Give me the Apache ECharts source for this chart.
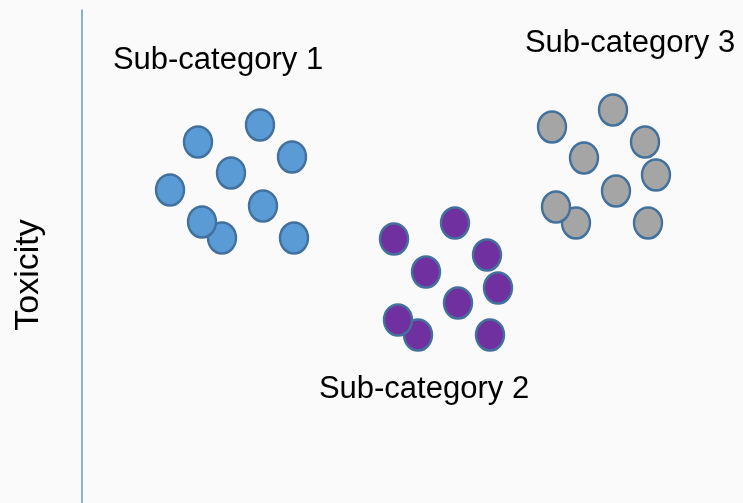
<!DOCTYPE html>
<html>
<head>
<meta charset="utf-8">
<script src="https://cdn.jsdelivr.net/npm/echarts@6/dist/echarts.min.js"></script>
<style>
  html, body { margin: 0; padding: 0; background: #fafafa; }
  #main { width: 743px; height: 503px; }
</style>
</head>
<body>
<div id="main"></div>
<script>
// points of each sub-category, [x, toxicity]
var cat1 = [[116, 398], [178, 415], [210, 383], [149, 367], [88, 350], [181, 334], [140, 302], [120, 318], [212, 302]];
var cat2 = [[312, 301], [373, 317], [405, 285], [344, 268], [416, 252], [376, 237], [336, 205], [316, 220], [408, 205]];
var cat3 = [[470, 413], [531, 430], [563, 398], [502, 382], [574, 365], [534, 349], [494, 317], [474, 333], [566, 317]];

var groupNames = ['Sub-category 1', 'Sub-category 2', 'Sub-category 3'];
var groupLabelPos = [[136, 480], [342, 151], [548, 497]];
var fills = ['#5b9bd5', '#7030a0', '#a5a5a5'];

(function () {
    "use strict";
    var myChart = echarts.init(document.getElementById('main'));

    function dots(data, color) {
        return {
            type: 'scatter',
            data: data,
            symbol: 'circle',
            symbolSize: [28, 31],
            silent: true,
            itemStyle: {
                color: color,
                borderColor: '#41719c',
                borderWidth: 2.5,
                opacity: 1
            }
        };
    }

    var labelData = [];
    for (var i in groupNames) {
        labelData.push({ name: groupNames[i], value: groupLabelPos[i] });
    }

    var option = {
        backgroundColor: '#fafafa',
        animation: false,
        grid: { left: 82, right: 0, top: 10, height: 530, outerBoundsMode: 'none', containLabel: false },
        xAxis: {
            type: 'value', min: 0, max: 661,
            show: false
        },
        yAxis: {
            type: 'value', min: 0, max: 530,
            name: 'Toxicity',
            nameLocation: 'middle',
            nameRotate: 90,
            nameGap: 36,
            nameTextStyle: { fontFamily: 'Liberation Sans', fontSize: 34, color: '#000' },
            axisLine: { show: true, lineStyle: { color: '#5b9bd5', width: 1.5 } },
            axisTick: { show: false },
            axisLabel: { show: false },
            splitLine: { show: false }
        },
        series: [
            dots(cat1, fills[0]),
            dots(cat2, fills[1]),
            dots(cat3, fills[2]),
            {
                type: 'scatter',
                data: labelData,
                symbolSize: 0,
                silent: true,
                itemStyle: { color: '#000' },
                label: {
                    show: true,
                    position: 'inside',
                    formatter: '{b}',
                    fontFamily: 'Liberation Sans',
                    fontSize: 31,
                    color: '#000',
                    opacity: 1
                }
            }
        ]
    };
    myChart.setOption(option);
})();
</script>
</body>
</html>
